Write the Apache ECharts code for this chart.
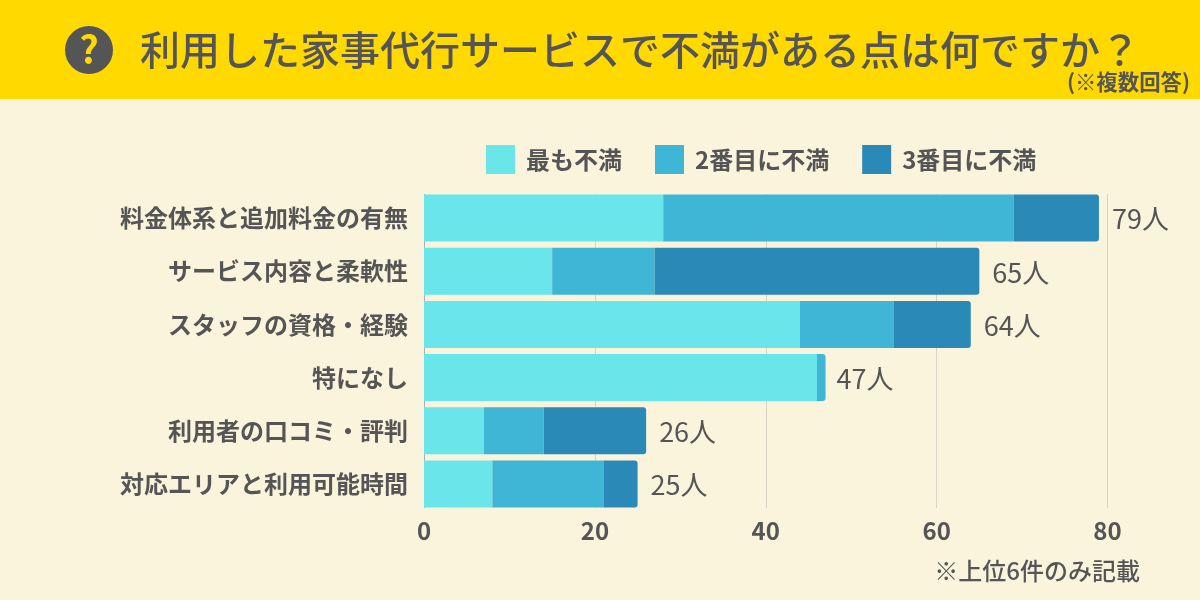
<!DOCTYPE html>
<html>
<head>
<meta charset="utf-8">
<style>
  html, body { margin: 0; padding: 0; }
  #chart { width: 1200px; height: 600px; }
</style>
<script src="https://cdn.jsdelivr.net/npm/echarts@6/dist/echarts.min.js"></script>
</head>
<body>
<div id="chart"></div>
<script>
const categories = [
  "料金体系と追加料金の有無",
  "サービス内容と柔軟性",
  "スタッフの資格・経験",
  "特になし",
  "利用者の口コミ・評判",
  "対応エリアと利用可能時間"
];
const first = [28, 15, 44, 46, 7, 8];
const second = [41, 12, 11, 1, 7, 13];
const third = [10, 38, 9, 0, 12, 4];
const totals = [79, 65, 64, 47, 26, 25];
const totalAnchor = [0, 0, 0, 0, 0, 0];

const textColor = "#555555";
const bgColor = "#fbf4dc";
const font = '"Noto Sans CJK JP", "Noto Sans", sans-serif';

// round the right end only on the last visible segment of each bar
function rounded(values, isEnd) {
  return values.map((v, i) => ({
    value: v,
    itemStyle: { borderRadius: isEnd(i) ? [0, 3, 3, 0] : 0 }
  }));
}

const chart = echarts.init(document.getElementById("chart"), null, { renderer: "canvas" });

chart.setOption({
  animation: false,
  backgroundColor: bgColor,
  textStyle: { fontFamily: font, color: textColor },
  title: {
    text: "利用した家事代行サービスで不満がある点は何ですか？",
    left: 140,
    top: 25,
    padding: 0,
    textStyle: { fontFamily: font, fontSize: 40, fontWeight: 500, color: textColor, lineHeight: 50 }
  },
  graphic: [
    { type: "rect", z: -1, shape: { x: 0, y: 0, width: 1200, height: 99 }, style: { fill: "#ffd900" } },
    { type: "circle", shape: { cx: 89, cy: 50, r: 24 }, style: { fill: textColor } },
    {
      type: "text", x: 89, y: 50,
      style: { text: "?", fill: "#ffd900", font: "700 38px " + font, textAlign: "center", textVerticalAlign: "middle" }
    },
    {
      type: "text", x: 1190, y: 82,
      style: { text: "(※複数回答)", fill: textColor, font: "700 21.4px " + font, textAlign: "right", textVerticalAlign: "middle" }
    },
    {
      type: "text", x: 1140, y: 571,
      style: { text: "※上位6件のみ記載", fill: textColor, font: "500 24px " + font, textAlign: "right", textVerticalAlign: "middle" }
    },
    // the grid lines stop at the first and last bar, trim what sticks out of them
    { type: "rect", z: 1, shape: { x: 418, y: 186, width: 695, height: 8 }, style: { fill: bgColor } },
    { type: "rect", z: 1, shape: { x: 418, y: 508, width: 695, height: 5 }, style: { fill: bgColor } }
  ],
  legend: {
    data: ["最も不満", "2番目に不満", "3番目に不満"],
    left: 486,
    top: 145,
    padding: 0,
    itemWidth: 29,
    itemHeight: 29,
    itemGap: 33,
    icon: "rect",
    textStyle: { fontFamily: font, fontSize: 24, fontWeight: 700, color: textColor, padding: [0, 0, 0, 6] }
  },
  grid: { left: 424, top: 191.5, width: 683.5, height: 319 },
  xAxis: {
    type: "value",
    min: 0,
    max: 80,
    interval: 20,
    axisLine: { show: false },
    axisTick: { show: false },
    axisLabel: { fontFamily: font, fontSize: 24, fontWeight: 700, color: textColor, margin: 8 },
    splitLine: { lineStyle: { color: "#d8d3c2", width: 1 } }
  },
  yAxis: {
    type: "category",
    inverse: true,
    data: categories,
    axisLine: { lineStyle: { color: "#a9b0ad", width: 1 } },
    axisTick: { show: false },
    axisLabel: { fontFamily: font, fontSize: 24, fontWeight: 700, color: textColor, margin: 16 }
  },
  series: [
    { name: "最も不満", type: "bar", stack: "total", barWidth: 47, data: first, itemStyle: { color: "#6ae6ea" } },
    { name: "2番目に不満", type: "bar", stack: "total", data: rounded(second, i => third[i] === 0), itemStyle: { color: "#40b6d6" } },
    { name: "3番目に不満", type: "bar", stack: "total", data: rounded(third, i => third[i] > 0), itemStyle: { color: "#2b89b8" } },
    {
      name: "合計",
      type: "bar",
      stack: "total",
      data: totalAnchor.map((v, i) => ({
        value: v,
        label: { distance: third[i] === 0 ? 11 : 13 }
      })),
      silent: true,
      itemStyle: { color: "transparent" },
      label: {
        show: true,
        position: "right",
        offset: [0, 1],
        formatter: p => totals[p.dataIndex] + "人",
        fontFamily: font,
        fontSize: 27,
        fontWeight: 400,
        color: textColor
      }
    }
  ]
});
</script>
</body>
</html>
